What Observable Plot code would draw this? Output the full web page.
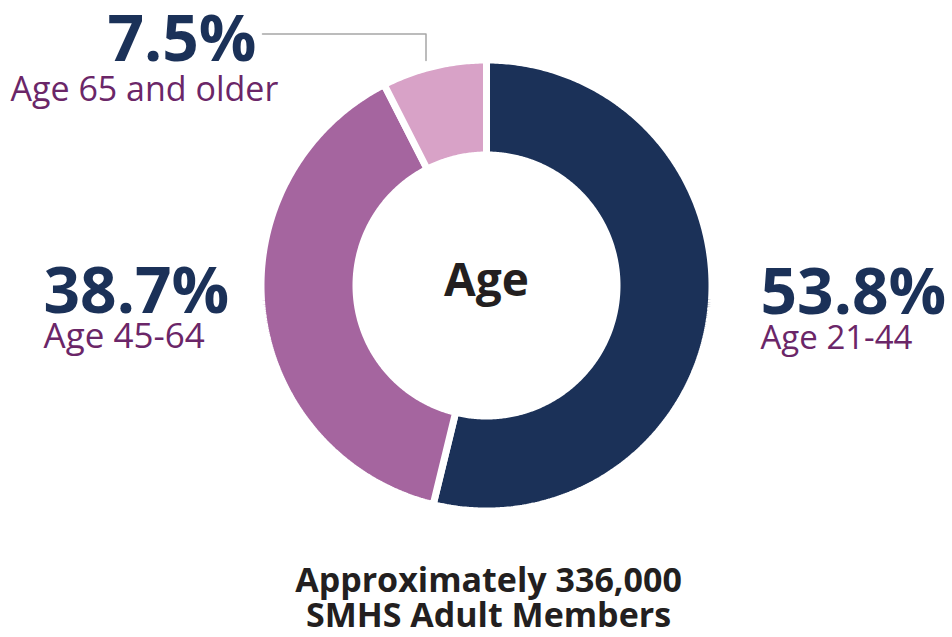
<!DOCTYPE html>
<html>
<head>
<meta charset="utf-8">
<script src="https://cdn.jsdelivr.net/npm/d3@7"></script>
<script src="https://cdn.jsdelivr.net/npm/@observablehq/plot@0.6"></script>
<style>
  html, body { margin: 0; padding: 0; background: #ffffff; }
  #chart svg { display: block; }
</style>
</head>
<body>
<div id="chart"></div>
<script>
// ---- data ----
const categories = ["Age 21-44", "Age 45-64", "Age 65 and older"];
const shares = [53.8, 38.7, 7.5];
const percentLabels = ["53.8%", "38.7%", "7.5%"];
const centerLabel = "Age";
const captionLines = ["Approximately 336,000", "SMHS Adult Members"];

// ---- styling / layout ----
const colors = ["#1b3158", "#a5659f", "#d8a2c7"];
const navy = "#1b3158", purple = "#6b2668", ink = "#231f20";
const W = 952, H = 637;
const cx = 486, cy = 285, rOuter = 225.5, rInner = 130.5;
const font = "'Open Sans', 'Segoe UI', sans-serif";

// build slice polygons from the shares (angles clockwise from 12 o'clock)
const total = d3.sum(shares);
const pts = [];
let acc = 0;
shares.forEach((v, i) => {
  const a0 = acc / total * 2 * Math.PI;
  acc += v;
  const a1 = acc / total * 2 * Math.PI;
  const n = Math.max(8, Math.ceil((a1 - a0) / 0.01));
  const ring = [];
  for (let k = 0; k <= n; k++) ring.push([a0 + (a1 - a0) * k / n, rOuter]);
  for (let k = n; k >= 0; k--) ring.push([a0 + (a1 - a0) * k / n, rInner]);
  ring.push(ring[0]);
  ring.forEach(([a, r]) => pts.push({
    cat: categories[i],
    x: cx + r * Math.sin(a),
    y: cy - r * Math.cos(a)
  }));
});

// label placements (layout, pixel units)
const pctPos = [
  {x: 760, y: 313, anchor: "start"},
  {x: 43, y: 312, anchor: "start"},
  {x: 256, y: 60, anchor: "end"}
];
const catPos = [
  {x: 760, y: 348, anchor: "start", size: 33},
  {x: 43, y: 347, anchor: "start", size: 35},
  {x: 10, y: 100, anchor: "start", size: 34}
];
const pctData = percentLabels.map((t, i) => ({t, ...pctPos[i]}));
const catData = categories.map((t, i) => ({t, ...catPos[i]}));
const leader = [{x: 262, y: 33.5}, {x: 425.5, y: 33.5}, {x: 425.5, y: 60}];

const chart = Plot.plot({
  width: W,
  height: H,
  margin: 0,
  style: {background: "#ffffff", fontFamily: font, overflow: "visible"},
  x: {domain: [0, W], range: [0, W], axis: null},
  y: {domain: [0, H], range: [0, H], axis: null},
  color: {domain: categories, range: colors},
  marks: [
    Plot.line(pts, {
      x: "x", y: "y", z: "cat", fill: "cat",
      stroke: "#ffffff", strokeWidth: 7, strokeLinejoin: "miter", curve: "linear"
    }),
    Plot.line(leader, {x: "x", y: "y", stroke: "#a6a6a6", strokeWidth: 1.5}),
    ...pctData.map(d => Plot.text([d], {
      x: "x", y: "y", text: "t", textAnchor: d.anchor, lineAnchor: "bottom",
      fontSize: 64, fontWeight: 700, fill: navy, fontFamily: font
    })),
    ...catData.map(d => Plot.text([d], {
      x: "x", y: "y", text: "t", textAnchor: d.anchor, lineAnchor: "bottom",
      fontSize: d.size, fontWeight: 500, fill: purple, fontFamily: font
    })),
    Plot.text([centerLabel], {
      x: () => cx, y: () => 295, text: d => d, textAnchor: "middle", lineAnchor: "bottom",
      fontSize: 46, fontWeight: 700, fill: ink, fontFamily: font
    }),
    Plot.text(captionLines, {
      x: () => 488, y: (d, i) => 591 + i * 35.5, text: d => d,
      textAnchor: "middle", lineAnchor: "bottom",
      fontSize: 34, fontWeight: 700, fill: ink, fontFamily: font
    })
  ]
});
document.getElementById("chart").appendChild(chart);
</script>
</body>
</html>
